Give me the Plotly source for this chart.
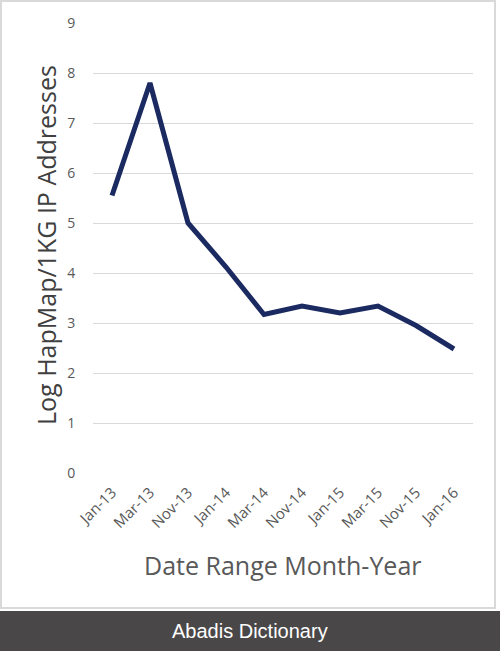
import plotly.graph_objects as go

categories = ["Jan-13", "Mar-13", "Nov-13", "Jan-14", "Mar-14", "Nov-14",
              "Jan-15", "Mar-15", "Nov-15", "Jan-16"]
values = [5.55, 7.8, 5.0, 4.12, 3.17, 3.34, 3.2, 3.34, 2.95, 2.48]
y_ticks = list(range(0, 10))

W, H = 500, 651
L, R, T, B = 93, 27, 23, 178
pw, ph = W - L - R, H - T - B

def px(x):
    return (x - L) / pw

def py(y):
    return (H - B - y) / ph

fig = go.Figure()
fig.add_trace(go.Scatter(
    x=categories, y=values, mode="lines",
    line=dict(color="#1b2a60", width=5),
    hoverinfo="skip", showlegend=False,
))

font = "Open Sans, sans-serif"
fig.update_layout(
    width=W, height=H,
    margin=dict(l=L, r=R, t=T, b=B, autoexpand=False),
    paper_bgcolor="white", plot_bgcolor="white",
    xaxis=dict(
        type="category", range=[-0.5, 9.5], showgrid=False, zeroline=False,
        showline=False, tickangle=-45, automargin=False,
        tickfont=dict(family=font, size=15, color="#595959"),
        ticks="outside", ticklen=4, tickcolor="rgba(0,0,0,0)",
    ),
    yaxis=dict(
        range=[0, 9], tickvals=y_ticks, showgrid=True, gridcolor="#d9d9d9",
        gridwidth=1, zeroline=False, showline=False, automargin=False,
        tickfont=dict(family=font, size=14, color="#595959"),
        ticks="outside", ticklen=14, tickcolor="rgba(0,0,0,0)",
    ),
    shapes=[
        dict(type="rect", xref="paper", yref="paper",
             x0=px(1), x1=px(495), y0=py(608), y1=py(1),
             line=dict(color="#d9d9d9", width=2), fillcolor="rgba(0,0,0,0)",
             layer="below"),
        dict(type="rect", xref="paper", yref="paper",
             x0=px(0), x1=px(500), y0=py(651), y1=py(611),
             line=dict(width=0), fillcolor="#4a4748"),
    ],
    annotations=[
        dict(text="Log HapMap/1KG IP Addresses", xref="paper", yref="paper",
             x=px(46), y=py(245), textangle=-90, showarrow=False,
             font=dict(family=font, size=25, color="#404040"),
             xanchor="center", yanchor="middle"),
        dict(text="Date Range Month-Year", xref="paper", yref="paper",
             x=px(283), y=py(565), showarrow=False,
             font=dict(family=font, size=25, color="#595959"),
             xanchor="center", yanchor="middle"),
        dict(text="Abadis Dictionary", xref="paper", yref="paper",
             x=px(250), y=py(631), showarrow=False,
             font=dict(family="Liberation Sans, Arial, sans-serif", size=20, color="white"),
             xanchor="center", yanchor="middle"),
    ],
)

fig.write_html("out.html", config={"displayModeBar": False},
               post_script="document.body.style.margin='0';document.body.style.overflow='hidden';")
